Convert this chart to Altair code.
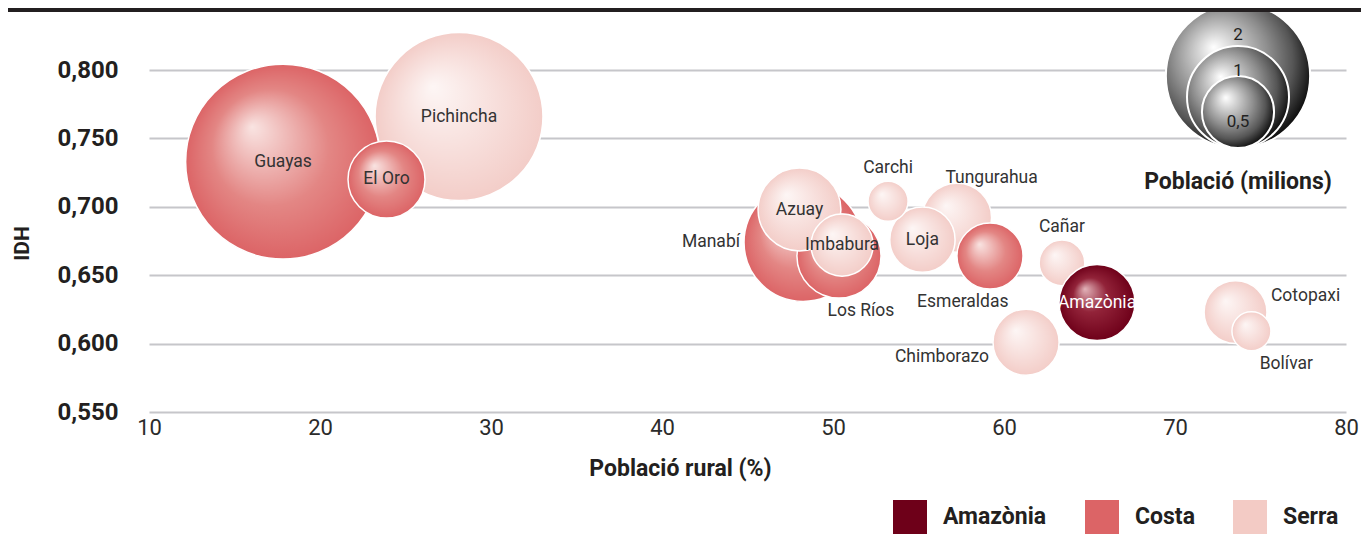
import altair as alt
import pandas as pd

# ---------------- data ----------------
names = ["Guayas", "Pichincha", "Manabí", "Los Ríos", "Azuay", "Tungurahua", "Loja",
         "Esmeraldas", "Chimborazo", "Imbabura", "Cotopaxi", "Cañar", "Amazònia",
         "El Oro", "Carchi", "Bolívar"]
regions = ["Costa", "Serra", "Costa", "Costa", "Serra", "Serra", "Serra",
           "Costa", "Serra", "Serra", "Serra", "Serra", "Amazònia",
           "Costa", "Serra", "Serra"]
rural = [17.84, 28.13, 48.25, 50.35, 48.04, 57.25, 55.23,
         59.18, 61.29, 50.53, 73.54, 63.39, 65.44,
         23.89, 53.22, 74.47]
idh = [0.733, 0.766, 0.674, 0.664, 0.698, 0.692, 0.676,
       0.664, 0.601, 0.672, 0.623, 0.659, 0.630,
       0.720, 0.704, 0.609]
pop = [3.65, 2.71, 1.34, 0.68, 0.66, 0.46, 0.41,
       0.42, 0.42, 0.37, 0.38, 0.20, 0.555,
       0.57, 0.154, 0.146]
# label placement around each bubble (c = inside)
place = ["c", "c", "w", "sl", "c", "nl", "c",
         "sr", "wl", "c", "e", "n", "c",
         "c", "n", "se"]

region_order = ["Amazònia", "Costa", "Serra"]
region_colors = ["#6e0019", "#dc6466", "#f3cbc5"]
x_ticks = [10, 20, 30, 40, 50, 60, 70, 80]
y_ticks = [0.55, 0.60, 0.65, 0.70, 0.75, 0.80]
legend_values = [2, 1, 0.5]
legend_labels = ["2", "1", "0,5"]

# ---------------- layout / style ----------------
W, H = 1197, 342
XMIN, XMAX = 10, 80
YMIN, YMAX = 0.55, 0.80
PXX = W / (XMAX - XMIN)
PXY = H / (YMAX - YMIN)
R1 = 51.0                       # radius (px) of a 1-million bubble
SIZE1 = (2 * R1) ** 2           # vega circle size = (2r)^2
FONT = "Roboto"
INK = "#231f20"
GAP = 4

PLACE = {
    "c": (0, 0, "center", "middle"),
    "n": (0, -1, "center", "bottom"),
    "nl": (-0.3, -0.8, "left", "bottom"),
    "s": (0, 1, "center", "top"),
    "sl": (-0.25, 1, "left", "top"),
    "se": (0.35, 1, "left", "top"),
    "sr": (0.5, 1, "right", "top"),
    "w": (-1, 0, "right", "middle"),
    "wl": (-1, 0.4, "right", "middle"),
    "e": (1, -0.45, "left", "middle"),
}


def grad_expr(stops, fx=0.34, fy=0.32):
    s = ", ".join("{offset: %s, color: '%s'}" % (o, c) for o, c in stops)
    return ("{gradient: 'radial', x1: %s, y1: %s, r1: 0, x2: 0.5, y2: 0.5, r2: 0.5, stops: [%s]}"
            % (fx, fy, s))


region_grads = [
    {"expr": grad_expr([(0, "#e2b3b9"), (0.45, "#922339"), (1, "#6e0019")])},
    {"expr": grad_expr([(0, "#f9e4e2"), (0.6, "#e38684"), (1, "#dc6466")])},
    {"expr": grad_expr([(0, "#fdf6f5"), (1, "#f3cdc8")])},
]

legend_grad = {
    "gradient": "radial", "x1": 0.33, "y1": 0.3, "r1": 0, "x2": 0.42, "y2": 0.42, "r2": 0.6,
    "stops": [{"offset": 0, "color": "#ffffff"}, {"offset": 0.55, "color": "#8e8e8e"},
              {"offset": 0.8, "color": "#555555"}, {"offset": 1, "color": "#111111"}],
}

df = pd.DataFrame(dict(name=names, region=regions, rural=rural, idh=idh, pop=pop, place=place))


def xs():
    return alt.Scale(domain=[XMIN, XMAX], nice=False, zero=False)


def ys():
    return alt.Scale(domain=[YMIN, YMAX], nice=False, zero=False)


def ss():
    return alt.Scale(type="linear", domain=[0, 4], range=[0, 4 * SIZE1], zero=True)


def x_axis():
    return alt.Axis(values=x_ticks, labelFontSize=22, labelFont=FONT, labelColor="#2b2b2b",
                    labelPadding=5, labelFlush=False, domain=False, ticks=False, grid=False,
                    title="Població rural (%)", titleFont=FONT, titleFontSize=23,
                    titleFontWeight="bold", titleColor=INK, titleX=531, titleY=56,
                    titleAlign="center", titleBaseline="middle")


def y_axis():
    return alt.Axis(values=y_ticks, labelExpr="replace(format(datum.value, '.3f'), '.', ',')",
                    labelFontSize=24, labelFont=FONT, labelFontWeight="bold", labelColor=INK,
                    labelPadding=31, domain=False, ticks=False, grid=True,
                    gridColor="#c6c6ca", gridWidth=2,
                    title="IDH", titleFont=FONT, titleFontSize=21, titleFontWeight="bold",
                    titleColor=INK, titleAngle=-90, titleX=-127, titleY=173,
                    titleAlign="center", titleBaseline="middle")


base = alt.Chart(df)

solid = base.mark_circle(opacity=1).encode(
    x=alt.X("rural:Q", scale=xs(), axis=x_axis()),
    y=alt.Y("idh:Q", scale=ys(), axis=y_axis()),
    size=alt.Size("pop:Q", scale=ss(), legend=None),
    color=alt.Color("region:N", scale=alt.Scale(domain=region_order, range=region_colors),
                    legend=alt.Legend(orient="none", legendX=744, legendY=430,
                                      direction="horizontal", title=None,
                                      symbolType="square", symbolSize=1156,
                                      symbolStrokeWidth=0, symbolOpacity=1,
                                      labelFont=FONT, labelFontSize=23,
                                      labelFontWeight="bold", labelColor=INK,
                                      labelOffset=16, columnPadding=38, padding=0)),
)

grad = base.mark_circle(opacity=1, stroke="white", strokeWidth=1.5).encode(
    x=alt.X("rural:Q", scale=xs(), axis=x_axis()),
    y=alt.Y("idh:Q", scale=ys(), axis=y_axis()),
    size=alt.Size("pop:Q", scale=ss(), legend=None),
    fill=alt.Fill("region:N", scale=alt.Scale(domain=region_order, range=region_grads),
                  legend=None),
)

labels = []
for code in sorted(set(place)):
    ux, uy, align, baseline = PLACE[code]
    gap = 0 if code == "c" else GAP
    lay = (base.transform_filter(alt.datum.place == code)
           .transform_calculate(r=f"{R1}*sqrt(datum.pop)")
           .transform_calculate(lx=f"datum.rural + ({ux})*(datum.r + {gap})/{PXX}",
                                ly=f"datum.idh - ({uy})*(datum.r + {gap})/{PXY}")
           .mark_text(align=align, baseline=baseline, font=FONT, fontSize=17.5)
           .encode(x=alt.X("lx:Q", scale=xs(), axis=x_axis()),
                   y=alt.Y("ly:Q", scale=ys(), axis=y_axis()),
                   text="name:N",
                   color=alt.condition(alt.datum.region == "Amazònia",
                                       alt.value("#ffffff"), alt.value("#333333"))))
    labels.append(lay)

# population legend (nested circles, bottom aligned) in the top-right corner
LEG_CX = 1089      # px from plot left
LEG_BOTTOM = 78    # px from plot top
leg_df = pd.DataFrame({"v": legend_values, "lab": legend_labels})
leg_base = (alt.Chart(leg_df)
            .transform_calculate(r=f"{R1}*sqrt(datum.v)")
            .transform_window(r_next="lead(r)", sort=[alt.SortField("v", order="descending")])
            .transform_calculate(
                cx=f"{XMIN} + {LEG_CX}/{PXX}",
                cy=f"{YMAX} - ({LEG_BOTTOM} - datum.r)/{PXY}",
                ty=f"{YMAX} - ({LEG_BOTTOM} - datum.r - (datum.r_next ? datum.r_next : 0) + 10)/{PXY}"))

leg_circles = leg_base.mark_circle(fill=legend_grad, opacity=1, stroke="white",
                                   strokeWidth=2).encode(
    x=alt.X("cx:Q", scale=xs(), axis=x_axis()),
    y=alt.Y("cy:Q", scale=ys(), axis=y_axis()),
    size=alt.Size("v:Q", scale=ss(), legend=None),
    order=alt.Order("v:Q", sort="descending"),
)
leg_text = leg_base.mark_text(font=FONT, fontSize=17, color="#222222",
                              baseline="middle").encode(
    x=alt.X("cx:Q", scale=xs(), axis=x_axis()),
    y=alt.Y("ty:Q", scale=ys(), axis=y_axis()),
    text="lab:N",
)
leg_title = alt.Chart(pd.DataFrame({"t": ["Població (milions)"]})).mark_text(
    font=FONT, fontSize=23, fontWeight="bold", color=INK, baseline="middle"
).encode(x=alt.value(LEG_CX), y=alt.value(112), text="t:N")

top_bar = alt.Chart(pd.DataFrame({"k": [0]})).mark_rule(color="#231f20", strokeWidth=4).encode(
    x=alt.value(-141), x2=alt.value(W + 15), y=alt.value(-60))

chart = alt.layer(solid, grad, *labels, leg_circles, leg_text, leg_title, top_bar).properties(
    width=W, height=H,
    autosize=alt.AutoSizeParams(type="none"),
    padding={"left": 141, "top": 62, "right": 15, "bottom": 123},
).configure(font=FONT).configure_view(stroke=None)

chart.save("out.html", embed_options={"renderer": "svg", "actions": False})
